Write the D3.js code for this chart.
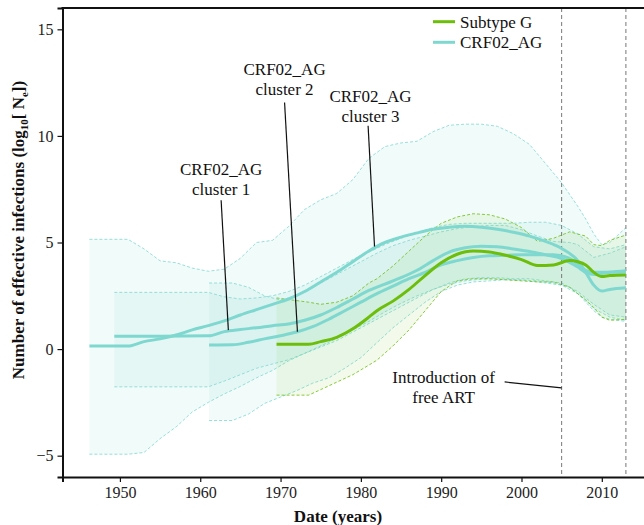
<!DOCTYPE html>
<html>
<head>
<meta charset="utf-8">
<script src="https://cdn.jsdelivr.net/npm/d3@7"></script>
<style>
  body { margin: 0; background: #fff; }
  svg text { font-family: "Liberation Serif", "Times New Roman", serif; }
</style>
</head>
<body>
<svg id="chart" width="644" height="525"></svg>
<script>
// CRF02_AG cluster 3 (widest band, starts 1946)
const cl3Years  = [1946.2, 1951, 1953, 1955, 1957, 1959, 1961, 1963, 1965, 1967, 1969, 1971, 1973, 1975, 1977, 1979, 1981, 1983, 1985, 1987, 1989, 1991, 1993, 1995, 1997, 1999, 2001, 2003, 2005, 2007, 2008, 2009, 2010, 2011, 2013];
const cl3Median = [0.14, 0.14, 0.35, 0.48, 0.66, 0.9, 1.1, 1.32, 1.6, 1.85, 2.1, 2.35, 2.7, 3.15, 3.6, 4.1, 4.6, 5.0, 5.25, 5.45, 5.62, 5.72, 5.76, 5.72, 5.62, 5.48, 5.3, 5.05, 4.72, 4.15, 3.6, 3.0, 2.72, 2.8, 2.88];
const cl3Upper  = [5.15, 5.15, 4.7, 4.14, 4.05, 3.8, 3.65, 3.75, 4.26, 5.0, 5.1, 5.75, 6.55, 7.0, 7.3, 7.95, 8.95, 9.5, 9.67, 9.75, 10.2, 10.5, 10.55, 10.55, 10.45, 10.1, 9.6, 8.7, 7.8, 6.7, 6.1, 5.4, 4.9, 5.0, 5.7];
const cl3Lower  = [-4.93, -4.93, -4.85, -4.2, -3.65, -2.95, -2.5, -2.1, -1.75, -1.35, -1.0, -0.55, -0.2, 0.15, 0.5, 0.9, 1.3, 1.75, 2.15, 2.5, 2.8, 3.05, 3.2, 3.28, 3.3, 3.25, 3.2, 3.1, 3.0, 2.6, 2.2, 1.8, 1.5, 1.4, 1.3];

// CRF02_AG cluster 1 (starts 1949)
const cl1Years  = [1949.3, 1955, 1961, 1963, 1965, 1967, 1969, 1971, 1973, 1975, 1977, 1979, 1981, 1983, 1985, 1987, 1989, 1991, 1993, 1995, 1997, 1999, 2001, 2003, 2005, 2007, 2008, 2009, 2011, 2013];
const cl1Median = [0.6, 0.6, 0.62, 0.82, 0.92, 1.0, 1.1, 1.18, 1.35, 1.6, 1.95, 2.35, 2.75, 3.05, 3.35, 3.7, 4.15, 4.55, 4.75, 4.82, 4.8, 4.7, 4.58, 4.42, 4.25, 3.85, 3.6, 3.5, 3.6, 3.67];
const cl1Upper  = [2.66, 2.66, 2.66, 2.45, 2.35, 2.4, 2.5, 2.7, 3.0, 3.4, 3.8, 4.2, 4.55, 4.9, 5.2, 5.45, 5.7, 5.85, 5.9, 5.9, 5.9, 5.9, 5.95, 5.95, 5.8, 5.4, 5.1, 4.8, 4.7, 4.9];
const cl1Lower  = [-1.77, -1.77, -1.77, -1.5, -1.2, -0.9, -0.7, -0.5, -0.2, 0.1, 0.4, 0.8, 1.2, 1.6, 2.0, 2.4, 2.8, 3.1, 3.3, 3.35, 3.35, 3.3, 3.3, 3.2, 3.1, 2.7, 2.4, 2.1, 1.6, 1.5];

// CRF02_AG cluster 2 (starts 1961)
const cl2Years  = [1961.1, 1964, 1966, 1968, 1970, 1972, 1974, 1976, 1978, 1980, 1982, 1984, 1986, 1988, 1990, 1992, 1994, 1996, 1998, 2000, 2002, 2004, 2006, 2007, 2008, 2009, 2011, 2013];
const cl2Median = [0.19, 0.2, 0.32, 0.48, 0.63, 0.8, 1.05, 1.4, 1.8, 2.2, 2.6, 2.95, 3.3, 3.6, 3.95, 4.15, 4.3, 4.38, 4.4, 4.42, 4.42, 4.42, 4.25, 4.0, 3.7, 3.6, 3.6, 3.62];
const cl2Upper  = [3.1, 3.1, 2.9, 2.5, 2.3, 2.5, 2.9, 3.3, 3.7, 4.1, 4.5, 4.85, 5.1, 5.3, 5.5, 5.65, 5.75, 5.8, 5.8, 5.6, 5.3, 5.05, 5.0, 4.9, 4.6, 4.3, 4.5, 4.8];
const cl2Lower  = [-3.35, -3.35, -3.05, -2.55, -2.25, -1.95, -1.6, -1.35, -0.9, -0.4, 0.3, 1.0, 1.6, 2.2, 2.7, 3.0, 3.15, 3.2, 3.25, 3.25, 3.2, 3.1, 2.9, 2.6, 2.3, 1.9, 1.5, 1.35];

// Subtype G (starts 1969)
const gYears  = [1969.5, 1973.5, 1975, 1977, 1979, 1981, 1982, 1984, 1986, 1988, 1990, 1992, 1994, 1996, 1998, 2000, 2002, 2004, 2006, 2007, 2008, 2009, 2010, 2011, 2013];
const gMedian = [0.23, 0.23, 0.35, 0.55, 0.95, 1.5, 1.8, 2.25, 2.8, 3.45, 4.05, 4.45, 4.6, 4.55, 4.4, 4.2, 3.92, 3.95, 4.15, 4.1, 3.95, 3.6, 3.4, 3.45, 3.48];
const gUpper  = [2.4, 2.2, 2.1, 2.2, 2.5, 3.1, 3.3, 3.9, 4.6, 5.3, 5.9, 6.2, 6.35, 6.3, 6.1, 5.7, 5.05, 5.2, 5.5, 5.4, 5.3, 4.9, 4.85, 5.1, 5.35];
const gLower  = [-2.16, -2.16, -1.9, -1.55, -1.2, -0.75, -0.52, 0.15, 0.9, 1.8, 2.7, 3.2, 3.3, 3.3, 3.25, 3.2, 3.15, 3.15, 2.9, 2.6, 2.3, 1.95, 1.5, 1.35, 1.4];

const xTicks = [1950, 1960, 1970, 1980, 1990, 2000, 2010];
const yTicks = [-5, 0, 5, 10, 15];
const markerYears = [2005, 2013];

const legendNames = ["Subtype G", "CRF02_AG"];

// annotation labels: text lines, label year, value of first baseline, leader from / to
const annotations = [
    {text: ["CRF02_AG", "cluster 1"], x: 1962.6, y: 8.18, from: [1962.6, 6.98], to: [1963.5, 0.89]},
    {text: ["CRF02_AG", "cluster 2"], x: 1970.5, y: 12.88, from: [1970.5, 11.57], to: [1972.1, 0.81]},
    {text: ["CRF02_AG", "cluster 3"], x: 1981.2, y: 11.57, from: [1980.9, 10.48], to: [1981.7, 4.81]}
];
const artNote = {text: ["Introduction of", "free ART"], x: 1990.3, y: -1.6, from: [1997.9, -1.54], to: [2005, -1.82]};

const teal = "#7ed8cf";
const green = "#6cbe0a";

const svg = d3.select("#chart");

const x = d3.scaleLinear().domain([1942.85, 2016]).range([62.5, 650]);
const y = d3.scaleLinear().domain([-6, 16]).range([477, 8]);

function zipSeries(years, med, up, lo) {
    return years.map(function(yr, i) {
        return {year: yr, med: med[i], up: up[i], lo: lo[i]};
    });
}

const series = [
    {name: "cl3", color: teal, fillOp: 0.11, data: zipSeries(cl3Years, cl3Median, cl3Upper, cl3Lower)},
    {name: "cl1", color: teal, fillOp: 0.1, data: zipSeries(cl1Years, cl1Median, cl1Upper, cl1Lower)},
    {name: "cl2", color: teal, fillOp: 0.1, data: zipSeries(cl2Years, cl2Median, cl2Upper, cl2Lower)},
    {name: "g", color: green, fillOp: 0.08, data: zipSeries(gYears, gMedian, gUpper, gLower)}
];

const area = d3.area()
    .x(function(d) { return x(d.year); })
    .y0(function(d) { return y(d.lo); })
    .y1(function(d) { return y(d.up); });

const edgeUp = d3.line().x(function(d) { return x(d.year); }).y(function(d) { return y(d.up); });
const edgeLo = d3.line().x(function(d) { return x(d.year); }).y(function(d) { return y(d.lo); });
const medLine = d3.line()
    .x(function(d) { return x(d.year); })
    .y(function(d) { return y(d.med); })
    .curve(d3.curveMonotoneX);

// bands
const bands = svg.append("g");
series.forEach(function(s) {
    bands.append("path")
        .attr("d", area(s.data))
        .attr("fill", s.color)
        .attr("fill-opacity", s.fillOp);
    [edgeUp, edgeLo].forEach(function(fn) {
        bands.append("path")
            .attr("d", fn(s.data))
            .attr("fill", "none")
            .attr("stroke", s.color)
            .attr("stroke-width", 0.8)
            .attr("stroke-dasharray", "3,2");
    });
});

// marker lines
svg.append("g").selectAll("line")
    .data(markerYears)
    .enter()
    .append("line")
    .attr("x1", function(d) { return x(d); })
    .attr("x2", function(d) { return x(d); })
    .attr("y1", y(16))
    .attr("y2", y(-6))
    .attr("stroke", "#777")
    .attr("stroke-width", 1)
    .attr("stroke-dasharray", "4,3");

// median lines (teal first, green on top)
const lines = svg.append("g");
series.forEach(function(s) {
    lines.append("path")
        .attr("d", medLine(s.data))
        .attr("fill", "none")
        .attr("stroke", s.color)
        .attr("stroke-width", 3)
        .attr("stroke-linejoin", "round");
});

// axes
const xAxis = svg.append("g")
    .attr("transform", "translate(0," + y(-6) + ")")
    .call(d3.axisBottom(x).tickValues(xTicks).tickFormat(d3.format("d")).tickSizeOuter(0).tickSize(5).tickPadding(5));
xAxis.select(".domain").attr("stroke", "#111").attr("stroke-width", 2);
xAxis.selectAll(".tick line").attr("stroke", "#111").attr("stroke-width", 1.2);
xAxis.selectAll("text").style("font-size", "16px").attr("fill", "#222");

const yAxis = svg.append("g")
    .attr("transform", "translate(" + x(1942.85) + ",0)")
    .call(d3.axisLeft(y).tickValues(yTicks).tickSizeOuter(0).tickSize(5).tickPadding(4));
yAxis.select(".domain").attr("stroke", "#111").attr("stroke-width", 2);
yAxis.selectAll(".tick line").attr("stroke", "#111").attr("stroke-width", 1.2);
yAxis.selectAll("text").style("font-size", "16px").attr("fill", "#222");

svg.append("line")
    .attr("x1", x(1942.85) - 1).attr("x2", x(2016))
    .attr("y1", y(16)).attr("y2", y(16))
    .attr("stroke", "#111").attr("stroke-width", 2);

// axis titles
svg.append("text")
    .attr("x", 338)
    .attr("y", 522)
    .attr("text-anchor", "middle")
    .style("font-size", "17px")
    .style("font-weight", "bold")
    .attr("fill", "#111")
    .text("Date (years)");

const yTitle = svg.append("text")
    .attr("transform", "translate(24,230) rotate(-90)")
    .attr("text-anchor", "middle")
    .style("font-size", "17px")
    .style("font-weight", "bold")
    .attr("fill", "#111");
yTitle.append("tspan").text("Number of effective infections (log");
yTitle.append("tspan").attr("dy", 4).style("font-size", "11px").text("10");
yTitle.append("tspan").attr("dy", -4).text("[ N");
yTitle.append("tspan").attr("dy", 4).style("font-size", "11px").text("e");
yTitle.append("tspan").attr("dy", -4).text("])");

// legend
const legend = svg.append("g");
[green, teal].forEach(function(c, i) {
    legend.append("line")
        .attr("x1", 433).attr("x2", 455)
        .attr("y1", 21.7 + i * 20.6).attr("y2", 21.7 + i * 20.6)
        .attr("stroke", c).attr("stroke-width", 3);
    legend.append("text")
        .attr("x", 460)
        .attr("y", 27.5 + i * 20.6)
        .style("font-size", "17px")
        .attr("fill", "#111")
        .text(legendNames[i]);
});

// annotations
function drawNote(a) {
    a.text.forEach(function(t, i) {
        svg.append("text")
            .attr("x", x(a.x))
            .attr("y", y(a.y) + i * 20)
            .attr("text-anchor", "middle")
            .style("font-size", "17px")
            .attr("fill", "#111")
            .text(t);
    });
    svg.append("line")
        .attr("x1", x(a.from[0])).attr("y1", y(a.from[1]))
        .attr("x2", x(a.to[0])).attr("y2", y(a.to[1]))
        .attr("stroke", "#111")
        .attr("stroke-width", 1.2);
}
annotations.forEach(drawNote);
drawNote(artNote);
</script>
</body>
</html>
